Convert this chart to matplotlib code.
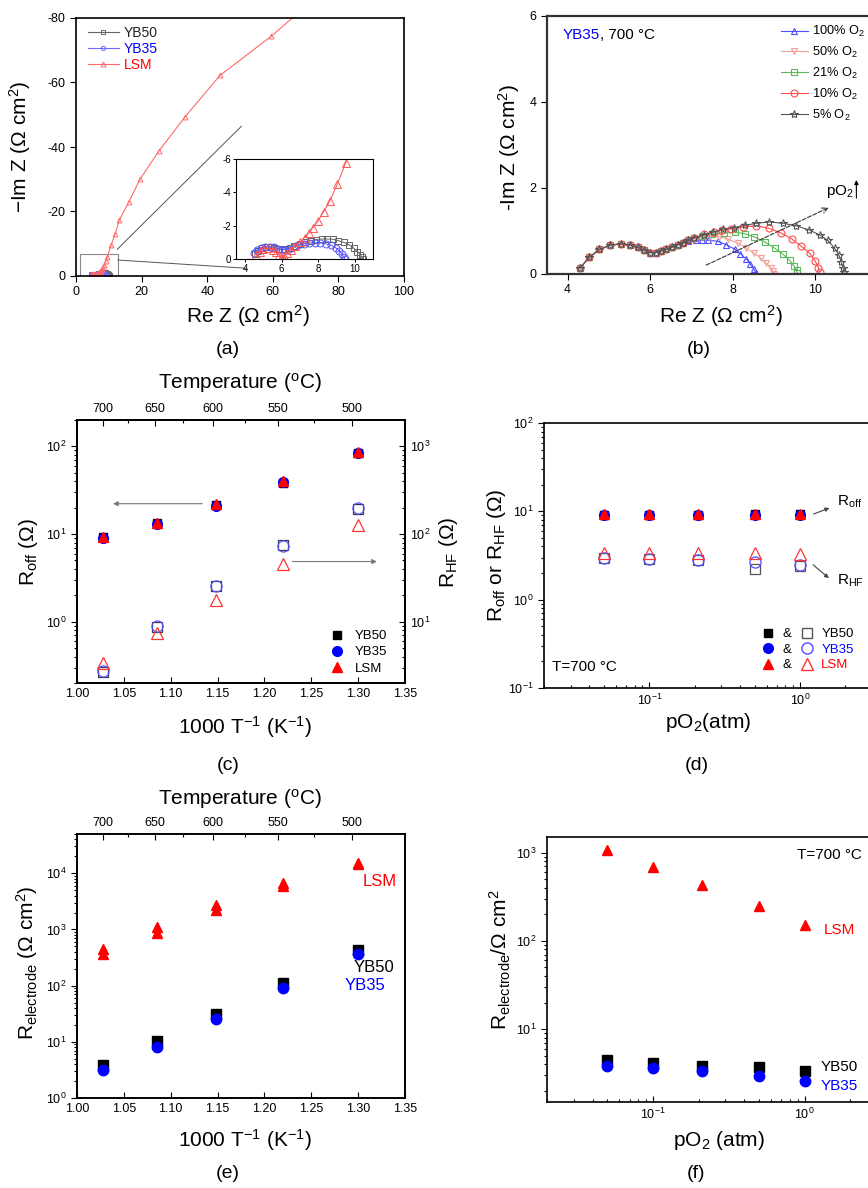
import matplotlib
matplotlib.use("Agg")
import matplotlib.pyplot as plt
from matplotlib.lines import Line2D
from matplotlib.patches import Rectangle
from matplotlib.ticker import FixedLocator, LogLocator

plt.rcParams['font.family'] = ['Liberation Sans', 'DejaVu Sans']
plt.rcParams['mathtext.fontset'] = 'custom'
plt.rcParams['mathtext.rm'] = 'Liberation Sans'
plt.rcParams['mathtext.it'] = 'Liberation Sans:italic'
plt.rcParams['mathtext.bf'] = 'Liberation Sans:bold'
plt.rcParams['mathtext.default'] = 'regular'
plt.rcParams['axes.unicode_minus'] = False
plt.rcParams['axes.linewidth'] = 1.2

# ===============================
# DATA
# ===============================

# (a) Nyquist plots, Re Z / Im Z (Ohm cm2)
a_yb50_re = [4.55, 4.7, 4.9, 5.15, 5.4, 5.6, 5.8, 6.0, 6.2, 6.45, 6.7, 7.0, 7.3, 7.6,
             7.9, 8.2, 8.5, 8.8, 9.1, 9.4, 9.7, 9.95, 10.15, 10.3, 10.4, 10.45]
a_yb50_im = [-0.3, -0.5, -0.65, -0.72, -0.72, -0.68, -0.62, -0.58, -0.6, -0.68, -0.78,
             -0.9, -1.02, -1.1, -1.17, -1.2, -1.2, -1.18, -1.1, -1.0, -0.85, -0.65,
             -0.45, -0.25, -0.1, -0.02]
a_yb35_re = [4.5, 4.65, 4.85, 5.1, 5.35, 5.6, 5.8, 6.0, 6.2, 6.4, 6.65, 6.9, 7.2, 7.5,
             7.8, 8.1, 8.4, 8.7, 8.95, 9.15, 9.3, 9.4, 9.45]
a_yb35_im = [-0.35, -0.55, -0.68, -0.75, -0.75, -0.7, -0.62, -0.55, -0.55, -0.62, -0.72,
             -0.82, -0.9, -0.95, -0.97, -0.96, -0.92, -0.82, -0.68, -0.5, -0.3, -0.12,
             -0.02]
a_lsm_re = [4.6, 4.8, 5.0, 5.25, 5.5, 5.7, 5.85, 5.95, 6.0, 6.05, 6.15, 6.3, 6.5, 6.75,
            7.0, 7.25, 7.5, 7.7, 8.0, 8.3, 8.65, 9.05, 9.5, 10.7, 11.9, 13.2, 16.1,
            19.5, 25.3, 33.2, 43.9, 59.6, 75.0]
a_lsm_im = [-0.25, -0.45, -0.6, -0.65, -0.55, -0.4, -0.22, -0.08, -0.02, -0.05, -0.18,
            -0.35, -0.55, -0.78, -1.02, -1.29, -1.57, -1.87, -2.29, -2.84, -3.5, -4.5,
            -5.75, -9.6, -12.9, -17.3, -23.0, -30.0, -38.8, -49.3, -62.2, -74.4, -88.0]

# (b) YB35 at 700 C, different pO2 (shared high-frequency arc + own tail)
b_common_re = [4.30, 4.53, 4.77, 5.03, 5.29, 5.52, 5.70, 5.86, 6.00, 6.14, 6.27, 6.39,
               6.52, 6.67, 6.79]
b_common_im = [0.14, 0.39, 0.57, 0.67, 0.70, 0.67, 0.62, 0.55, 0.50, 0.50, 0.54, 0.57,
               0.62, 0.68, 0.72]
b_labels = ['100% O$_2$', '50% O$_2$', '21% O$_2$', '10% O$_2$', '5% O$_2$']
b_tail_re = [
    [6.93, 7.10, 7.25, 7.40, 7.64, 7.84, 8.05, 8.19, 8.33, 8.43, 8.51, 8.57],
    [6.93, 7.07, 7.25, 7.45, 7.68, 7.88, 8.13, 8.33, 8.51, 8.68, 8.81, 8.92, 8.98, 9.0],
    [6.93, 7.07, 7.25, 7.50, 7.80, 8.05, 8.29, 8.53, 8.79, 9.02, 9.22, 9.38, 9.49, 9.55,
     9.57],
    [6.93, 7.07, 7.30, 7.55, 7.75, 7.96, 8.25, 8.57, 8.89, 9.18, 9.44, 9.66, 9.87, 10.0,
     10.08, 10.11],
    [6.93, 7.07, 7.30, 7.52, 7.76, 8.03, 8.29, 8.57, 8.89, 9.22, 9.54, 9.84, 10.11,
     10.31, 10.47, 10.57, 10.63, 10.68, 10.70],
]
b_tail_im = [
    [0.76, 0.78, 0.79, 0.79, 0.76, 0.68, 0.58, 0.47, 0.35, 0.23, 0.12, 0.02],
    [0.78, 0.82, 0.85, 0.87, 0.87, 0.81, 0.72, 0.60, 0.49, 0.37, 0.26, 0.15, 0.06, 0.01],
    [0.78, 0.84, 0.89, 0.93, 0.95, 0.97, 0.94, 0.86, 0.74, 0.60, 0.46, 0.32, 0.18, 0.09,
     0.02],
    [0.78, 0.84, 0.92, 0.98, 1.02, 1.05, 1.09, 1.12, 1.06, 0.95, 0.81, 0.65, 0.48, 0.30,
     0.15, 0.04],
    [0.78, 0.84, 0.91, 0.97, 1.04, 1.08, 1.13, 1.18, 1.21, 1.18, 1.12, 1.03, 0.91, 0.78,
     0.60, 0.45, 0.29, 0.14, 0.04],
]

# (c), (e) temperature dependence
inv_T = [1.028, 1.085, 1.148, 1.220, 1.300]
temps_top = [700, 650, 600, 550, 500]
temps_minor = [675, 625, 575, 525]
c_roff_yb50 = [9.2, 13.3, 21.3, 38.5, 84.0]
c_roff_yb35 = [9.0, 13.0, 21.0, 38.8, 83.0]
c_roff_lsm = [9.2, 13.5, 21.9, 40.5, 87.0]
c_rhf_yb50 = [2.70, 8.8, 25.8, 74.5, 195.0]
c_rhf_yb35 = [2.76, 8.9, 25.8, 73.0, 200.0]
c_rhf_lsm = [3.37, 7.5, 17.6, 46.0, 126.0]

e_lsm_1 = [452, 1100, 2690, 6750, 15500]
e_lsm_2 = [367, 870, 2250, 5950, 14500]
e_yb50 = [3.83, 10.3, 30.8, 110, 427]
e_yb35 = [3.2, 8.1, 25.0, 92, 363]

# (d), (f) pO2 dependence at 700 C
pO2 = [0.05, 0.1, 0.21, 0.5, 1.0]
d_roff_yb50 = [9.2, 9.2, 9.2, 9.3, 9.3]
d_roff_yb35 = [9.0, 9.0, 9.1, 9.1, 9.1]
d_roff_lsm = [9.3, 9.3, 9.3, 9.3, 9.3]
d_rhf_yb50 = [2.95, 2.9, 2.8, 2.2, 2.4]
d_rhf_yb35 = [2.94, 2.9, 2.8, 2.65, 2.5]
d_rhf_lsm = [3.4, 3.4, 3.35, 3.35, 3.3]

f_lsm = [1060, 689, 427, 247, 153]
f_yb50 = [4.54, 4.16, 3.88, 3.75, 3.38]
f_yb35 = [3.88, 3.61, 3.35, 2.94, 2.6]

# ===============================
# LAYOUT HELPERS
# ===============================

W, H = 868, 1188
LAB = 15
TICK = 9
RED = '#ff0000'
BLUE = '#0000ff'

fig = plt.figure(figsize=(W / 100, H / 100), dpi=100)


def box(l, t, r, b):
    return [l / W, 1 - b / H, (r - l) / W, (b - t) / H]


def fpx(x, y):
    return (x / W, 1 - y / H)


def place_xlabel(ax, text, x, y):
    ax.set_xlabel(text, fontsize=LAB)
    ax.xaxis.set_label_coords(*fpx(x, y), transform=fig.transFigure)
    ax.xaxis.label.set_va('center')


def place_ylabel(ax, text, x, y):
    ax.set_ylabel(text, fontsize=LAB)
    ax.yaxis.set_label_coords(*fpx(x, y), transform=fig.transFigure)
    ax.yaxis.label.set_va('center')


def caption(text, x, y):
    fig.text(*fpx(x, y), text, fontsize=14, ha='center', va='center')


def style_log(ax):
    ax.tick_params(which='both', labelsize=TICK, width=0.8)
    ax.tick_params(which='major', length=4)
    ax.tick_params(which='minor', length=2)
    ax.tick_params(axis='x', which='both', direction='in')
    ax.tick_params(axis='y', which='both', direction='out')


def add_top_temp(ax):
    top = ax.twiny()
    top.set_xlim(ax.get_xlim())
    top.xaxis.set_major_locator(FixedLocator([1000 / (t + 273.15) for t in temps_top]))
    top.xaxis.set_minor_locator(FixedLocator([1000 / (t + 273.15) for t in temps_minor]))
    top.set_xticklabels([str(t) for t in temps_top])
    top.tick_params(which='both', direction='in', labelsize=TICK, width=0.8)
    top.tick_params(which='major', length=4)
    top.tick_params(which='minor', length=2)
    return top


# ===============================
# (a)
# ===============================
ax_a = fig.add_axes(box(76, 18, 404, 276))
ax_a.plot(a_yb50_re, a_yb50_im, '-s', color='#666666', mfc='none', ms=3, mew=0.7,
          lw=0.8, label='YB50')
ax_a.plot(a_yb35_re, a_yb35_im, '-o', color='#6b6bff', mfc='none', ms=3, mew=0.7,
          lw=0.8, label='YB35')
ax_a.plot(a_lsm_re, a_lsm_im, '-^', color='#ff6b6b', mfc='none', ms=3.5, mew=0.7,
          lw=0.8, label='LSM')
ax_a.set_xlim(0, 100)
ax_a.set_ylim(0, -80)
ax_a.set_xticks([0, 20, 40, 60, 80, 100])
ax_a.set_yticks([0, -20, -40, -60, -80])
ax_a.tick_params(labelsize=TICK, direction='out', length=4, width=0.8)
ax_a.add_patch(Rectangle((1.3, 2.1), 11.5, -8.8, fill=False, ec='#888888', lw=0.8))
ax_a.plot([12.6, 50.4], [-8.3, -46.4], color='#555555', lw=0.7)
ax_a.plot([12.8, 52.0], [-4.95, -2.4], color='#555555', lw=0.7)
leg = ax_a.legend(loc='upper left', bbox_to_anchor=fpx(88, 26),
                  bbox_transform=fig.transFigure, frameon=False, fontsize=10,
                  handlelength=2.2, handletextpad=0.4, labelspacing=0.15,
                  borderpad=0, borderaxespad=0)
for t, c in zip(leg.get_texts(), ['#222222', BLUE, RED]):
    t.set_color(c)
place_xlabel(ax_a, 'Re Z (Ω cm$^2$)', 248, 316)
place_ylabel(ax_a, '\u2212Im Z (Ω cm$^2$)', 20, 147)
caption('(a)', 228, 350)

ax_in = fig.add_axes(box(236, 159, 373, 259))
ax_in.plot(a_yb50_re, a_yb50_im, '-s', color='#666666', mfc='none', ms=5, mew=0.7, lw=0.7)
ax_in.plot(a_yb35_re, a_yb35_im, '-o', color='#5555ff', mfc='none', ms=5, mew=0.7, lw=0.7)
ax_in.plot(a_lsm_re, a_lsm_im, '-^', color='#ff5555', mfc='none', ms=5.5, mew=0.7, lw=0.7)
ax_in.set_xlim(3.5, 11)
ax_in.set_ylim(0, -6)
ax_in.set_xticks([4, 6, 8, 10])
ax_in.set_yticks([0, -2, -4, -6])
ax_in.tick_params(labelsize=7, direction='out', length=2.5, width=0.7, pad=1)
for s in ax_in.spines.values():
    s.set_linewidth(0.8)

# ===============================
# (b)
# ===============================
ax_b = fig.add_axes(box(547, 16, 877, 274))
b_colors = ['#4d4dff', '#f4a09a', '#5cb85c', '#ff4d4d', '#555555']
b_markers = ['^', 'v', 's', 'o', '*']
for lab, tre, tim, col, mk in zip(b_labels, b_tail_re, b_tail_im, b_colors, b_markers):
    ax_b.plot(b_common_re + tre, b_common_im + tim, '-', marker=mk, color=col,
              mfc='none', ms=6 if mk == '*' else 5, mew=0.8, lw=0.8, label=lab)
ax_b.set_xlim(3.5, 11.5)
ax_b.set_ylim(0, 6)
ax_b.set_xticks([4, 6, 8, 10])
ax_b.set_yticks([0, 2, 4, 6])
ax_b.tick_params(labelsize=TICK, direction='out', length=4, width=0.8)
for s in ax_b.spines.values():
    s.set_linewidth(1.6)
    s.set_color('#333333')
ax_b.legend(loc='upper left', bbox_to_anchor=fpx(781, 24), bbox_transform=fig.transFigure,
            frameon=False, fontsize=9.2, handlelength=2.1, handletextpad=0.3,
            labelspacing=0.45, borderpad=0, borderaxespad=0)
t1 = ax_b.text(3.88, 5.55, 'YB35', color=BLUE, fontsize=11, va='center')
ax_b.annotate(', 700 °C', xy=(1, 0), xycoords=t1, va='bottom', fontsize=11)
ax_b.annotate('', xy=(10.39, 1.57), xytext=(7.3, 0.18),
              arrowprops=dict(arrowstyle='->', ls='--', color='#333333', lw=0.8))
ax_b.text(10.27, 1.91, 'pO$_2$', fontsize=11, va='center')
ax_b.annotate('', xy=(11.0, 2.25), xytext=(11.0, 1.7),
              arrowprops=dict(arrowstyle='-|>', color='k', lw=0.8, mutation_scale=6))
place_xlabel(ax_b, 'Re Z (Ω cm$^2$)', 721, 316)
place_ylabel(ax_b, '-Im Z (Ω cm$^2$)', 509, 147)
caption('(b)', 699, 350)

# ===============================
# (c)
# ===============================
ax_c = fig.add_axes(box(77, 420, 405, 683))
ax_c.set_yscale('log')
ax_c.set_xlim(1.0, 1.35)
ax_c.set_ylim(0.2, 200)
ax_c.set_xticks([1.00, 1.05, 1.10, 1.15, 1.20, 1.25, 1.30, 1.35])
ax_c.set_xticklabels(['1.00', '1.05', '1.10', '1.15', '1.20', '1.25', '1.30', '1.35'])
style_log(ax_c)
ax_c2 = ax_c.twinx()
ax_c2.set_yscale('log')
ax_c2.set_ylim(2, 2000)
ax_c2.tick_params(which='both', direction='in', labelsize=TICK, width=0.8)
ax_c2.tick_params(which='major', length=4)
ax_c2.tick_params(which='minor', length=2)
ax_c2.plot(inv_T, c_rhf_yb50, 's', color='#333333', mfc='none', ms=7, mew=0.9)
ax_c2.plot(inv_T, c_rhf_yb35, 'o', color='#5555ff', mfc='none', ms=8, mew=0.9)
ax_c2.plot(inv_T, c_rhf_lsm, '^', color='#ff3333', mfc='none', ms=8.5, mew=0.9)
ax_c2.plot(inv_T, c_roff_yb50, 's', color='k', ms=6, transform=ax_c.transData)
ax_c2.plot(inv_T, c_roff_yb35, 'o', color=BLUE, ms=7, transform=ax_c.transData)
ax_c2.plot(inv_T, c_roff_lsm, '^', color=RED, ms=7.5, transform=ax_c.transData)
ax_c2.annotate('', xy=(1.0355, 22.2), xytext=(1.1367, 22.2), xycoords=ax_c.transData,
               textcoords=ax_c.transData,
               arrowprops=dict(arrowstyle='-|>', color='#777777', lw=0.8, mutation_scale=7))
ax_c2.annotate('', xy=(1.323, 48.6), xytext=(1.227, 48.6),
               arrowprops=dict(arrowstyle='-|>', color='#777777', lw=0.8, mutation_scale=7))
handles = [Line2D([], [], ls='none', marker='s', color='k', ms=6),
           Line2D([], [], ls='none', marker='o', color=BLUE, ms=7),
           Line2D([], [], ls='none', marker='^', color=RED, ms=7.5)]
ax_c2.legend(handles, ['YB50', 'YB35', 'LSM'], loc='upper left',
             bbox_to_anchor=fpx(330, 630), bbox_transform=fig.transFigure,
             frameon=False, fontsize=9.5, handlelength=1, handletextpad=0.85,
             labelspacing=0.3, borderpad=0, borderaxespad=0)
top_c = add_top_temp(ax_c)
place_xlabel(top_c, 'Temperature ($^o$C)', 240, 383)
place_xlabel(ax_c, '1000 T$^{-1}$ (K$^{-1}$)', 245, 727)
place_ylabel(ax_c, 'R$_{off}$ (Ω)', 28, 552)
place_ylabel(ax_c2, 'R$_{HF}$ (Ω)', 449, 552)
caption('(c)', 228, 765)

# ===============================
# (d)
# ===============================
ax_d = fig.add_axes(box(544, 423, 872, 688))
ax_d.set_xscale('log')
ax_d.set_yscale('log')
ax_d.set_xlim(0.02, 3)
ax_d.set_ylim(0.1, 100)
style_log(ax_d)
ax_d.plot(pO2, d_rhf_yb50, 's', color='#555555', mfc='none', ms=7, mew=0.9)
ax_d.plot(pO2, d_rhf_yb35, 'o', color='#4d4dff', mfc='none', ms=8, mew=0.9)
ax_d.plot(pO2, d_rhf_lsm, '^', color='#ff3333', mfc='none', ms=8.5, mew=0.9)
ax_d.plot(pO2, d_roff_yb50, 's', color='k', ms=6)
ax_d.plot(pO2, d_roff_yb35, 'o', color=BLUE, ms=7)
ax_d.plot(pO2, d_roff_lsm, '^', color=RED, ms=7.5)
filled = [Line2D([], [], ls='none', marker='s', color='k', ms=6),
          Line2D([], [], ls='none', marker='o', color=BLUE, ms=7),
          Line2D([], [], ls='none', marker='^', color=RED, ms=7.5)]
hollow = [Line2D([], [], ls='none', marker='s', color='#555555', mfc='none', ms=7),
          Line2D([], [], ls='none', marker='o', color='#4d4dff', mfc='none', ms=8),
          Line2D([], [], ls='none', marker='^', color='#ff3333', mfc='none', ms=8.5)]
leg_d = ax_d.legend(filled + hollow, ['&', '&', '&', 'YB50', 'YB35', 'LSM'], ncol=2,
                    loc='upper left', bbox_to_anchor=fpx(761, 628),
                    bbox_transform=fig.transFigure, frameon=False, fontsize=9.5,
                    handlelength=1, handletextpad=0.6, columnspacing=0.7,
                    labelspacing=0.25, borderpad=0, borderaxespad=0)
for t, c in zip(leg_d.get_texts(), ['k', 'k', 'k', 'k', BLUE, RED]):
    t.set_color(c)
ax_d.text(*fpx(552, 667), 'T=700 °C', transform=fig.transFigure, fontsize=11,
          va='center')
ax_d.annotate('R$_{off}$', xy=fpx(837, 502), xycoords='figure fraction', fontsize=11,
              va='center')
ax_d.annotate('', xy=fpx(832, 507), xycoords='figure fraction',
              xytext=fpx(811, 515), textcoords='figure fraction',
              arrowprops=dict(arrowstyle='-|>', color='#444444', lw=0.8, mutation_scale=6))
ax_d.annotate('R$_{HF}$', xy=fpx(837, 581), xycoords='figure fraction', fontsize=11,
              va='center')
ax_d.annotate('', xy=fpx(831, 580), xycoords='figure fraction',
              xytext=fpx(811, 563), textcoords='figure fraction',
              arrowprops=dict(arrowstyle='-|>', color='#444444', lw=0.8, mutation_scale=6))
place_xlabel(ax_d, 'pO$_2$(atm)', 708, 723)
place_ylabel(ax_d, 'R$_{off}$ or R$_{HF}$ (Ω)', 496, 555)
caption('(d)', 697, 765)

# ===============================
# (e)
# ===============================
ax_e = fig.add_axes(box(77, 834, 405, 1098))
ax_e.set_yscale('log')
ax_e.set_xlim(1.0, 1.35)
ax_e.set_ylim(1, 5e4)
ax_e.set_xticks([1.00, 1.05, 1.10, 1.15, 1.20, 1.25, 1.30, 1.35])
ax_e.set_xticklabels(['1.00', '1.05', '1.10', '1.15', '1.20', '1.25', '1.30', '1.35'])
ax_e.yaxis.set_major_locator(LogLocator(base=10, numticks=10))
style_log(ax_e)
ax_e.plot(inv_T, e_lsm_2, '^', color=RED, ms=7.5)
ax_e.plot(inv_T, e_lsm_1, '^', color=RED, ms=7.5)
ax_e.plot(inv_T, e_yb50, 's', color='k', ms=6.5)
ax_e.plot(inv_T, e_yb35, 'o', color=BLUE, ms=7.5)
ax_e.text(*fpx(363, 881), 'LSM', transform=fig.transFigure, color=RED, fontsize=12,
          va='center')
ax_e.text(*fpx(354, 968), 'YB50', transform=fig.transFigure, color='k', fontsize=12,
          va='center')
ax_e.text(*fpx(345, 985), 'YB35', transform=fig.transFigure, color=BLUE, fontsize=12,
          va='center')
top_e = add_top_temp(ax_e)
place_xlabel(top_e, 'Temperature ($^o$C)', 240, 799)
place_xlabel(ax_e, '1000 T$^{-1}$ (K$^{-1}$)', 245, 1140)
place_ylabel(ax_e, 'R$_{electrode}$ (Ω cm$^2$)', 27, 963)
caption('(e)', 228, 1174)

# ===============================
# (f)
# ===============================
ax_f = fig.add_axes(box(547, 837, 877, 1102))
ax_f.set_xscale('log')
ax_f.set_yscale('log')
ax_f.set_xlim(0.02, 3)
ax_f.set_ylim(1.5, 1500)
style_log(ax_f)
ax_f.plot(pO2, f_lsm, '^', color=RED, ms=7.5)
ax_f.plot(pO2, f_yb50, 's', color='k', ms=6.5)
ax_f.plot(pO2, f_yb35, 'o', color=BLUE, ms=7.5)
ax_f.text(*fpx(797, 855), 'T=700 °C', transform=fig.transFigure, fontsize=11,
          va='center')
ax_f.text(*fpx(824, 930), 'LSM', transform=fig.transFigure, color=RED, fontsize=11,
          va='center')
ax_f.text(*fpx(821, 1067), 'YB50', transform=fig.transFigure, color='k', fontsize=11,
          va='center')
ax_f.text(*fpx(821, 1086), 'YB35', transform=fig.transFigure, color=BLUE, fontsize=11,
          va='center')
place_xlabel(ax_f, 'pO$_2$ (atm)', 719, 1140)
place_ylabel(ax_f, 'R$_{electrode}$/Ω cm$^2$', 500, 960)
caption('(f)', 696, 1173)

fig.savefig('out.png', dpi=100)
